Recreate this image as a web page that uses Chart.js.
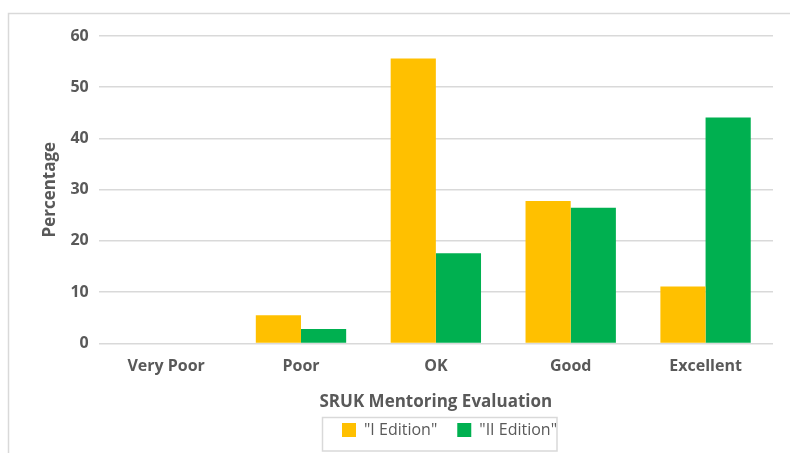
<!DOCTYPE html>
<html>
<head>
<meta charset="utf-8">
<script src="https://cdn.jsdelivr.net/npm/chart.js@4/dist/chart.umd.min.js"></script>
<style>
  html, body { margin: 0; padding: 0; background: #ffffff; }
  #wrap { position: relative; width: 790px; height: 453px; }
</style>
</head>
<body>
<div id="wrap"><canvas id="c" width="790" height="453"></canvas></div>
<script>
const categories = ["Very Poor", "Poor", "OK", "Good", "Excellent"];
const edition1 = [0, 5.5, 55.6, 27.8, 11.1];
const edition2 = [0, 2.8, 17.6, 26.5, 44.1];
const seriesNames = ['"I Edition"', '"II Edition"'];
const yTicks = [0, 10, 20, 30, 40, 50, 60];

const textColor = '#595959';
const gridColor = '#d9d9d9';
const legendShift = 43;

const framePlugin = {
  id: 'frame',
  afterLayout(chart) {
    const lg = chart.legend;
    if (lg) { lg.left += legendShift; lg.right += legendShift; }
  },
  beforeDraw(chart) {
    const ctx = chart.ctx;
    ctx.save();
    ctx.strokeStyle = gridColor;
    ctx.lineWidth = 1.5;
    ctx.beginPath();
    ctx.moveTo(8.5, 453);
    ctx.lineTo(8.5, 13.5);
    ctx.lineTo(790, 13.5);
    ctx.stroke();
    ctx.restore();
  },
  afterDraw(chart) {
    const lg = chart.legend;
    if (!lg || !lg.legendHitBoxes || !lg.legendHitBoxes.length) return;
    const boxes = lg.legendHitBoxes;
    let l = Infinity, r = -Infinity, t = Infinity, b = -Infinity;
    boxes.forEach(h => {
      l = Math.min(l, h.left); r = Math.max(r, h.left + h.width);
      t = Math.min(t, h.top); b = Math.max(b, h.top + h.height);
    });
    const ctx = chart.ctx;
    ctx.save();
    ctx.strokeStyle = gridColor;
    ctx.lineWidth = 1.5;
    const x0 = Math.round(l - 20) + 0.5;
    const y0 = Math.round(t - 5) + 0.5;
    ctx.strokeRect(x0, y0, Math.round(r) - x0, Math.round(b + 13) - y0);
    ctx.restore();
  }
};

new Chart(document.getElementById('c'), {
  type: 'bar',
  data: {
    labels: categories,
    datasets: [
      { label: seriesNames[0], data: edition1, backgroundColor: '#FFC000', borderWidth: 0 },
      { label: seriesNames[1], data: edition2, backgroundColor: '#00B050', borderWidth: 0 }
    ]
  },
  options: {
    responsive: false,
    animation: false,
    devicePixelRatio: 1,
    layout: { padding: { left: 40, right: 17, top: 36, bottom: 5 } },
    datasets: { bar: { categoryPercentage: 0.67, barPercentage: 1.0 } },
    plugins: {
      tooltip: { enabled: false },
      legend: {
        position: 'bottom',
        labels: {
          color: textColor,
          font: { family: 'Open Sans', size: 16 },
          boxWidth: 14, boxHeight: 14,
          padding: 20
        }
      }
    },
    scales: {
      x: {
        grid: { display: false, drawTicks: false },
        border: { display: false },
        ticks: { color: textColor, font: { family: 'Open Sans', size: 16, weight: 'bold' }, padding: 13 },
        title: { display: true, text: 'SRUK Mentoring Evaluation', color: textColor,
                 font: { family: 'Open Sans', size: 17, weight: 'bold' }, padding: { top: 3, bottom: -10 } }
      },
      y: {
        min: 0, max: 60,
        afterBuildTicks(axis) { axis.ticks = yTicks.map(v => ({ value: v })); },
        grid: { color: gridColor, lineWidth: 1.5, drawTicks: false },
        border: { display: false },
        ticks: { color: textColor, font: { family: 'Open Sans', size: 16, weight: 'bold' }, padding: 10 },
        title: { display: true, text: 'Percentage', color: textColor,
                 font: { family: 'Open Sans', size: 17, weight: 'bold' }, padding: { top: 0, bottom: 0 } }
      }
    }
  },
  plugins: [framePlugin]
});
</script>
</body>
</html>
